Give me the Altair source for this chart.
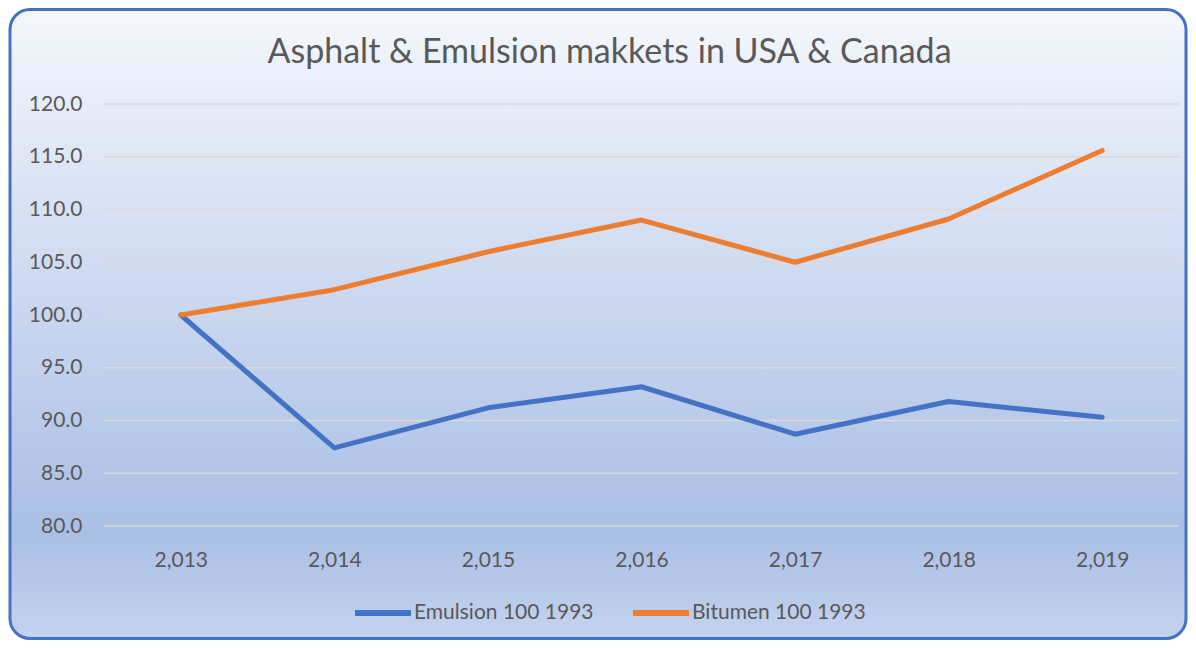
import altair as alt
import pandas as pd

years = [2013, 2014, 2015, 2016, 2017, 2018, 2019]
emulsion = [100.0, 87.4, 91.2, 93.2, 88.7, 91.8, 90.3]
bitumen = [100.0, 102.4, 106.0, 109.0, 105.0, 109.1, 115.6]
series_names = ["Emulsion 100 1993", "Bitumen 100 1993"]
series_colors = ["#4472C4", "#ED7D31"]
y_ticks = [80, 85, 90, 95, 100, 105, 110, 115, 120]

rows = []
for name, vals in zip(series_names, [emulsion, bitumen]):
    for yr, v in zip(years, vals):
        rows.append({"year": yr, "value": v, "series": name})
df = pd.DataFrame(rows)
grid_df = pd.DataFrame({"value": y_ticks})

FONT = "Lato"
GREY = "#595959"

y_scale = alt.Scale(domain=[80, 120], nice=False, zero=False)
y_axis = alt.Axis(
    title=None, values=y_ticks, format=".1f",
    domain=False, ticks=False, grid=False, zindex=1,
    labelFont=FONT, labelFontSize=21, labelColor=GREY, labelPadding=22,
)

bg = alt.Chart(alt.Data(values=[{}])).mark_rect(
    cornerRadius=20,
    stroke="#4472C4",
    strokeWidth=3,
    fill=alt.Gradient(
        gradient="linear",
        x1=0, y1=0, x2=0, y2=1,
        stops=[
            alt.GradientStop(offset=0, color="#F4F7FC"),
            alt.GradientStop(offset=0.83, color="#AABFE5"),
            alt.GradientStop(offset=1, color="#C4D3EE"),
        ],
    ),
).encode(
    x=alt.value(-94), x2=alt.value(1082),
    y=alt.value(-94.5), y2=alt.value(534.5),
)

grid = alt.Chart(grid_df).mark_rule(color="#D9D9D9", strokeWidth=1.5).encode(
    y=alt.Y("value:Q", scale=y_scale, axis=y_axis),
    x=alt.value(0), x2=alt.value(1075),
)

lines = alt.Chart(df).mark_line(
    strokeWidth=5, strokeCap="round", strokeJoin="round"
).encode(
    x=alt.X(
        "year:O",
        scale=alt.Scale(type="point", padding=0.5),
        axis=alt.Axis(
            title=None, labelExpr="format(datum.value, ',')", labelAngle=0,
            domain=False, ticks=False, grid=False, zindex=1,
            labelFont=FONT, labelFontSize=21, labelColor=GREY, labelPadding=23,
        ),
    ),
    y=alt.Y("value:Q", scale=y_scale, axis=y_axis),
    color=alt.Color(
        "series:N",
        scale=alt.Scale(domain=series_names, range=series_colors),
        sort=series_names,
        legend=alt.Legend(
            title=None, orient="none", direction="horizontal",
            legendX=248, legendY=478, padding=0, zindex=1,
            symbolType="stroke", symbolSize=3136, symbolStrokeWidth=6,
            labelFont=FONT, labelFontSize=21, labelColor=GREY,
            labelOffset=0, columnPadding=27, labelLimit=400,
        ),
    ),
    order=alt.Order("year:O"),
)

chart = alt.layer(bg, grid, lines).properties(
    width=1075,
    height=422,
    autosize=alt.AutoSizeParams(type="none"),
    padding={"left": 96, "top": 96, "right": 9, "bottom": 114},
    title=alt.TitleParams(
        "Asphalt & Emulsion makkets in USA & Canada",
        font=FONT, fontSize=34, fontWeight="normal", color=GREY,
        anchor="middle", baseline="bottom", offset=-96, dx=-32, zindex=1,
    ),
).configure_view(stroke=None).configure(background="white")

chart.save("out.html", embed_options={"renderer": "svg", "actions": False})
